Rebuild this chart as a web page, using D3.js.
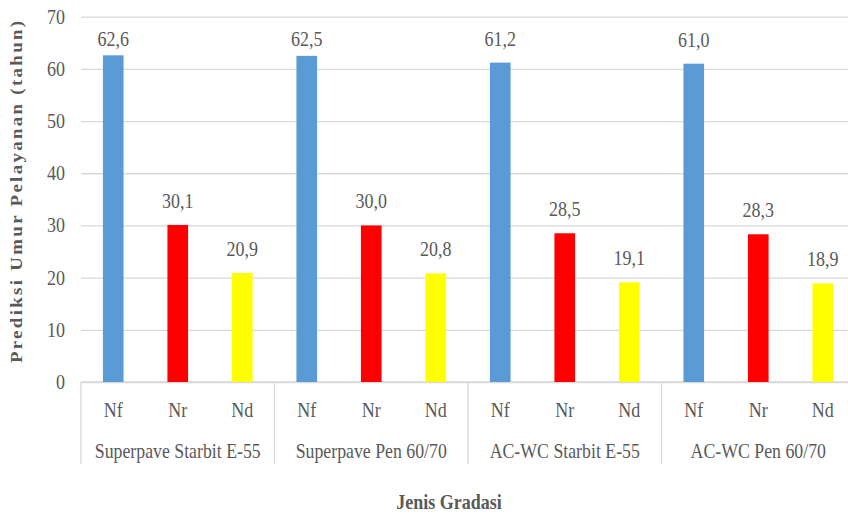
<!DOCTYPE html>
<html>
<head>
<meta charset="utf-8">
<script src="https://cdn.jsdelivr.net/npm/d3@7"></script>
<style>
  html, body { margin: 0; padding: 0; background: #fff; overflow: hidden; }
  svg { display: block; font-family: "Liberation Serif", "Times New Roman", serif; }
</style>
</head>
<body>
<svg id="chart" width="848" height="515"></svg>
<script>
// Predicted service life (years) per gradation type and criterion
const groups = ["Superpave Starbit E-55", "Superpave Pen 60/70", "AC-WC Starbit E-55", "AC-WC Pen 60/70"];
const categories = ["Nf", "Nr", "Nd"];
const nfValues = [62.6, 62.5, 61.2, 61.0];
const nrValues = [30.1, 30.0, 28.5, 28.3];
const ndValues = [20.9, 20.8, 19.1, 18.9];
const yTicks = [0, 10, 20, 30, 40, 50, 60, 70];
const colors = { Nf: "#5b9bd5", Nr: "#ff0000", Nd: "#ffff00" };
const yTitle = "Prediksi Umur Pelayanan (tahun)";
const xTitle = "Jenis Gradasi";

const seriesByCat = { Nf: nfValues, Nr: nrValues, Nd: ndValues };
const rows = [];
groups.forEach((g, gi) => categories.forEach(c => rows.push({ group: g, cat: c, value: seriesByCat[c][gi] })));

const svg = d3.select("#chart");
const textColor = "#595959";
const gridColor = "#d9d9d9";
const left = 81, right = 855, plotTop = 16.7, plotBottom = 382;
const axisBottom = 464;
const sy = 1.18; // vertical stretch of the labels

const x0 = d3.scaleBand().domain(groups).range([left, right]).padding(0);
const x1 = d3.scaleBand().domain(categories).range([0, x0.bandwidth()]).padding(0);
const barW = x1.bandwidth() * 0.32;
const y = d3.scaleLinear().domain([0, 70]).range([plotBottom, plotTop]);

// gridlines + tick labels
const yAxis = d3.axisLeft(y).tickValues(yTicks).tickSize(-(right - left)).tickPadding(16).tickFormat(d3.format("d"));
const ga = svg.append("g").attr("transform", `translate(${left},0)`).call(yAxis);
ga.select(".domain").remove();
ga.selectAll(".tick line").attr("stroke", gridColor).attr("stroke-width", 1.3);
ga.selectAll(".tick text")
  .attr("fill", textColor).attr("font-size", 18)
  .attr("font-family", "Liberation Serif, serif")
  .attr("dy", "0.3em")
  .attr("transform", `scale(1,${sy})`);

// category axis: baseline and group separators
svg.append("line").attr("x1", left).attr("x2", right).attr("y1", plotBottom).attr("y2", plotBottom)
  .attr("stroke", gridColor).attr("stroke-width", 1.3);
svg.append("g").selectAll("line").data(groups.concat(["end"])).join("line")
  .attr("x1", (d, i) => left + i * x0.step()).attr("x2", (d, i) => left + i * x0.step())
  .attr("y1", plotBottom).attr("y2", axisBottom)
  .attr("stroke", gridColor).attr("stroke-width", 1.3);

// bars
svg.append("g").selectAll("rect").data(rows).join("rect")
  .attr("x", d => x0(d.group) + x1(d.cat) + (x1.bandwidth() - barW) / 2)
  .attr("y", d => y(d.value))
  .attr("width", barW)
  .attr("height", d => y(0) - y(d.value))
  .attr("fill", d => colors[d.cat]);

function label(parent, x, yPos, str, size, weight) {
  const g = parent.append("g").attr("transform", `translate(${x},${yPos}) scale(1,${sy})`);
  g.append("text").attr("text-anchor", "middle").attr("fill", textColor)
    .attr("font-size", size).attr("font-weight", weight || "normal").text(str);
  return g;
}

// value labels above bars, kept inside the plot area
const fmt = v => d3.format(".1f")(v).replace(".", ",");
const lbl = svg.append("g");
rows.forEach(d => {
  const cx = x0(d.group) + x1(d.cat) + x1.bandwidth() / 2;
  const base = Math.max(y(d.value) - 17, 46);
  label(lbl, cx, base, fmt(d.value), 18);
});

// category and group labels
const cl = svg.append("g");
rows.forEach(d => {
  label(cl, x0(d.group) + x1(d.cat) + x1.bandwidth() / 2, 417, d.cat, 18);
});
groups.forEach(g => label(cl, x0(g) + x0.bandwidth() / 2, 458, g, 17.8));

// axis titles
label(svg, 449, 509, xTitle, 18, "bold");
svg.append("text")
  .attr("transform", `translate(22,192) rotate(-90) scale(${sy},1)`)
  .attr("text-anchor", "middle").attr("fill", textColor)
  .attr("font-size", 16).attr("font-weight", "bold")
  .attr("textLength", 290).attr("lengthAdjust", "spacing")
  .text(yTitle);
</script>
</body>
</html>
